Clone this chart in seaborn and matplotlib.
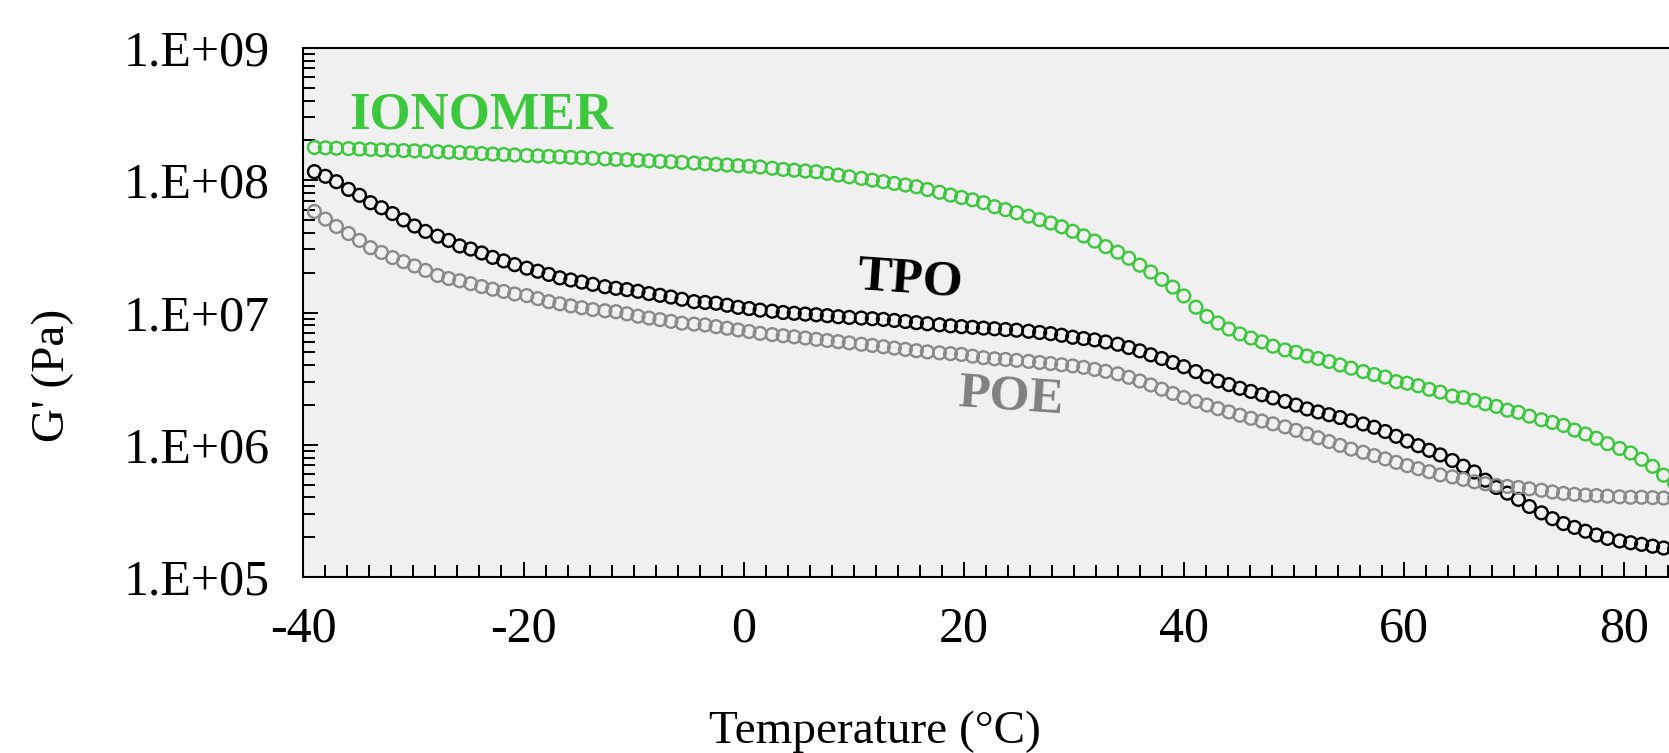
import numpy as np
import pandas as pd
import matplotlib
matplotlib.use("Agg")
import matplotlib.pyplot as plt
import matplotlib.ticker as mticker
import seaborn as sns

# temperature (degC) of each measured point
temperature = [
    -39.0, -38.0, -37.0, -35.9, -34.9, -33.9, -32.9, -31.9, -30.9, -29.9,
    -28.9, -27.8, -26.8, -25.8, -24.8, -23.8, -22.8, -21.8, -20.8, -19.7,
    -18.7, -17.7, -16.7, -15.7, -14.7, -13.7, -12.6, -11.6, -10.6, -9.6,
    -8.6, -7.6, -6.6, -5.6, -4.5, -3.5, -2.5, -1.5, -0.5, 0.5,
    1.5, 2.6, 3.6, 4.6, 5.6, 6.6, 7.6, 8.6, 9.6, 10.7,
    11.7, 12.7, 13.7, 14.7, 15.7, 16.7, 17.8, 18.8, 19.8, 20.8,
    21.8, 22.8, 23.8, 24.8, 25.9, 26.9, 27.9, 28.9, 29.9, 30.9,
    31.9, 32.9, 34.0, 35.0, 36.0, 37.0, 38.0, 39.0, 40.0, 41.1,
    42.1, 43.1, 44.1, 45.1, 46.1, 47.1, 48.1, 49.2, 50.2, 51.2,
    52.2, 53.2, 54.2, 55.2, 56.3, 57.3, 58.3, 59.3, 60.3, 61.3,
    62.3, 63.3, 64.4, 65.4, 66.4, 67.4, 68.4, 69.4, 70.4, 71.4,
    72.5, 73.5, 74.5, 75.5, 76.5, 77.5, 78.5, 79.6, 80.6, 81.6,
    82.6, 83.6, 84.6, 85.6, 86.6,
]

# log10 of storage modulus G' (Pa)
ionomer_logG = [
    8.248, 8.245, 8.242, 8.239, 8.236, 8.233, 8.230, 8.227, 8.224, 8.222,
    8.219, 8.216, 8.213, 8.210, 8.206, 8.202, 8.198, 8.195, 8.191, 8.187,
    8.184, 8.180, 8.177, 8.173, 8.170, 8.166, 8.162, 8.158, 8.155, 8.151,
    8.147, 8.143, 8.140, 8.135, 8.130, 8.125, 8.120, 8.115, 8.110, 8.106,
    8.100, 8.091, 8.082, 8.076, 8.070, 8.064, 8.052, 8.039, 8.026, 8.014,
    8.001, 7.989, 7.976, 7.964, 7.951, 7.930, 7.909, 7.888, 7.870, 7.852,
    7.830, 7.800, 7.778, 7.754, 7.728, 7.702, 7.676, 7.648, 7.614, 7.579,
    7.540, 7.498, 7.456, 7.410, 7.358, 7.306, 7.250, 7.192, 7.125, 7.040,
    6.970, 6.920, 6.875, 6.838, 6.807, 6.778, 6.745, 6.717, 6.699, 6.671,
    6.652, 6.629, 6.603, 6.579, 6.553, 6.531, 6.512, 6.477, 6.465, 6.446,
    6.419, 6.398, 6.368, 6.357, 6.336, 6.310, 6.290, 6.261, 6.245, 6.216,
    6.189, 6.169, 6.146, 6.111, 6.081, 6.049, 6.008, 5.972, 5.938, 5.890,
    5.837, 5.770, 5.710, 5.650, 5.590,
]

tpo_logG = [
    8.065, 8.030, 7.989, 7.931, 7.886, 7.830, 7.792, 7.748, 7.700, 7.654,
    7.613, 7.577, 7.545, 7.503, 7.480, 7.450, 7.417, 7.390, 7.362, 7.335,
    7.312, 7.288, 7.262, 7.246, 7.230, 7.213, 7.195, 7.183, 7.173, 7.160,
    7.143, 7.130, 7.117, 7.100, 7.082, 7.076, 7.070, 7.055, 7.039, 7.030,
    7.018, 7.010, 7.000, 6.994, 6.988, 6.983, 6.976, 6.968, 6.963, 6.958,
    6.953, 6.948, 6.940, 6.932, 6.923, 6.915, 6.907, 6.899, 6.893, 6.888,
    6.882, 6.877, 6.871, 6.866, 6.858, 6.849, 6.840, 6.828, 6.813, 6.803,
    6.793, 6.777, 6.760, 6.735, 6.710, 6.680, 6.652, 6.622, 6.590, 6.553,
    6.515, 6.482, 6.455, 6.427, 6.403, 6.378, 6.354, 6.328, 6.300, 6.271,
    6.248, 6.227, 6.206, 6.182, 6.157, 6.132, 6.100, 6.064, 6.028, 5.993,
    5.958, 5.923, 5.881, 5.838, 5.794, 5.732, 5.677, 5.634, 5.587, 5.533,
    5.485, 5.441, 5.404, 5.375, 5.346, 5.317, 5.292, 5.273, 5.259, 5.247,
    5.233, 5.219, 5.210, 5.205, 5.200,
]

poe_logG = [
    7.764, 7.706, 7.650, 7.597, 7.545, 7.490, 7.454, 7.415, 7.384, 7.352,
    7.318, 7.280, 7.257, 7.240, 7.218, 7.196, 7.176, 7.159, 7.140, 7.128,
    7.105, 7.082, 7.066, 7.050, 7.036, 7.022, 7.013, 7.006, 6.990, 6.972,
    6.958, 6.946, 6.933, 6.919, 6.912, 6.906, 6.893, 6.881, 6.868, 6.856,
    6.842, 6.833, 6.824, 6.816, 6.807, 6.797, 6.788, 6.779, 6.770, 6.760,
    6.751, 6.741, 6.731, 6.721, 6.711, 6.702, 6.695, 6.689, 6.683, 6.670,
    6.658, 6.650, 6.645, 6.638, 6.630, 6.622, 6.614, 6.605, 6.596, 6.585,
    6.570, 6.555, 6.536, 6.510, 6.482, 6.452, 6.420, 6.388, 6.357, 6.328,
    6.300, 6.273, 6.248, 6.223, 6.200, 6.179, 6.158, 6.135, 6.109, 6.082,
    6.053, 6.024, 5.995, 5.967, 5.943, 5.918, 5.893, 5.867, 5.842, 5.819,
    5.796, 5.772, 5.757, 5.738, 5.720, 5.705, 5.692, 5.685, 5.677, 5.667,
    5.656, 5.643, 5.632, 5.625, 5.619, 5.616, 5.611, 5.606, 5.603, 5.603,
    5.600, 5.597, 5.595, 5.593, 5.591,
]

materials = ["IONOMER", "TPO", "POE"]
colors = {"IONOMER": "#3cc83c", "TPO": "#000000", "POE": "#8a8a8a"}

frames = []
for name, logg in zip(materials, [ionomer_logG, tpo_logG, poe_logG]):
    frames.append(pd.DataFrame({"T": temperature,
                                "G": 10 ** np.array(logg),
                                "material": name}))
df = pd.concat(frames, ignore_index=True)

sns.set_style("ticks")
plt.rcParams["font.family"] = ["Liberation Serif", "DejaVu Serif"]
plt.rcParams["axes.unicode_minus"] = False
plt.rcParams["text.color"] = "black"
plt.rcParams["xtick.color"] = "black"
plt.rcParams["ytick.color"] = "black"
plt.rcParams["axes.labelcolor"] = "black"

fig = plt.figure(figsize=(16.69, 7.53), dpi=100)
# axes runs past the right edge of the figure, like the cropped original
ax = fig.add_axes([303.4 / 1669, 176 / 753, 130 * 11.005 / 1669, 529 / 753])
ax.set_facecolor("#f0f0f0")

for name in materials:
    sns.scatterplot(data=df[df["material"] == name], x="T", y="G", ax=ax,
                    marker="o", s=85, facecolors="none",
                    edgecolor=colors[name], linewidth=1.7, legend=False)

ax.set_yscale("log")
ax.set_xlim(-40, 90)
ax.set_ylim(1e5, 1e9)

ax.xaxis.set_major_locator(mticker.MultipleLocator(20))
ax.xaxis.set_minor_locator(mticker.MultipleLocator(2))
ax.yaxis.set_major_locator(mticker.LogLocator(base=10, numticks=10))
ax.yaxis.set_minor_locator(mticker.LogLocator(base=10, subs=range(2, 10), numticks=20))
ax.yaxis.set_minor_formatter(mticker.NullFormatter())
ax.yaxis.set_major_formatter(
    mticker.FuncFormatter(lambda v, p: "1.E+%02d" % int(round(np.log10(v)))))

ax.tick_params(axis="both", which="major", direction="in", length=11,
               width=1.4, labelsize=36, color="black", labelcolor="black")
ax.tick_params(axis="both", which="minor", direction="in", length=8.5,
               width=1.4, color="black")
ax.tick_params(axis="x", which="major", pad=21)
ax.tick_params(axis="y", which="major", pad=24)
ax.tick_params(top=False, right=False, which="both")

for sp in ax.spines.values():
    sp.set_linewidth(1.5)
    sp.set_color("black")

ax.set_xlabel("")
ax.set_ylabel("")
fig.text(53 / 1669, 1 - 375 / 753, "G' (Pa)", rotation=90, fontsize=34,
         ha="center", va="center")
fig.text(875 / 1669, 1 - 732 / 753, "Temperature (°C)", fontsize=34,
         ha="center", va="center")

# curve labels
ax.text(-23.8, 3.1e8, "IONOMER", color=colors["IONOMER"], fontsize=38,
        fontweight="bold", ha="center", va="center")
ax.text(15.1, 1.76e7, "TPO", color="black", fontsize=37,
        fontweight="bold", ha="center", va="center", rotation=-4)
ax.text(24.3, 2.3e6, "POE", color="#808080", fontsize=37,
        fontweight="bold", ha="center", va="center", rotation=-4)

fig.savefig("out.png", dpi=100)
